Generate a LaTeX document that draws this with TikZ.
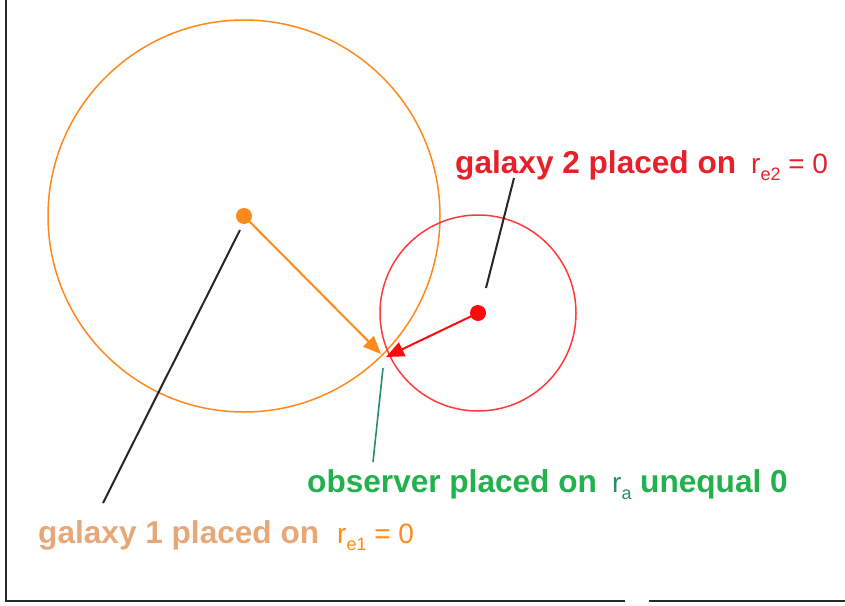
\documentclass[tikz,border=0pt]{standalone}
\usepackage{fontspec}
\setmainfont{Liberation Sans}
\usetikzlibrary{arrows.meta}
\definecolor{orng}{HTML}{FF8A1C}
\definecolor{redc}{HTML}{FF3A3A}
\definecolor{redd}{HTML}{FF0A0A}
\definecolor{redt}{HTML}{E8202A}
\definecolor{grnt}{HTML}{22B14C}
\definecolor{teal2}{HTML}{2A8A6E}
\definecolor{tant}{HTML}{E6A879}
\definecolor{frame}{HTML}{2A2A2A}
\tikzset{
  dot/.style={circle,fill=#1,inner sep=0pt,minimum size=16pt},
  ring/.style={draw=#1,line width=1.5pt},
  vec/.style={draw=#1,line width=2pt,-{Triangle[length=18pt,width=15pt]}},
  lead/.style={draw=#1,line width=2pt},
  big/.style={anchor=base west,inner sep=0pt,font=\bfseries\fontsize{31.6}{36}\selectfont},
  rpart/.style={anchor=base west,inner sep=0pt,font=\fontsize{28}{32}\selectfont},
}
\newcommand{\subx}[1]{\raisebox{-7pt}{\fontsize{18}{20}\selectfont #1}}
\begin{document}
\begin{tikzpicture}[x=1pt,y=-1pt]
\useasboundingbox (0,0) rectangle (845,605);
% frame
\draw[frame,line width=2.4pt] (6,0) -- (6,601) -- (625,601);
\draw[frame,line width=2.4pt] (649,601) -- (845,601);
% circles
\coordinate (c1) at (244,216);
\coordinate (c2) at (478,313);
\draw[ring=orng] (c1) circle[radius=196pt];
\draw[ring=redc] (c2) circle[radius=98pt];
% observer point tips
\coordinate (t1) at (381,354);
\coordinate (t2) at (386,357);
\draw[vec=orng] (c1) -- (t1);
\draw[vec=redd] (c2) -- (t2);
\node[dot=orng] (g1) at (c1) {};
\node[dot=redd] (g2) at (c2) {};
% leader lines
\coordinate (l1a) at (240,230);
\coordinate (l1b) at (103,503);
\coordinate (l2a) at (514,178);
\coordinate (l2b) at (486,288);
\coordinate (l3a) at (383,368);
\coordinate (l3b) at (373,462);
\draw[lead=black!85] (l1a) -- (l1b);
\draw[lead=black!85] (l2a) -- (l2b);
\draw[lead=teal2,line width=1.6pt] (l3a) -- (l3b);
% labels
\node[big,text=redt] (lab2) at (455,173) {galaxy 2 placed on};
\node[rpart,text=redt] (r2) at (751,173) {r\subx{e2} = 0};
\node[big,text=grnt] (lab3) at (307,492) {observer placed on};
\node[rpart,text=teal2] (r3) at (612,492) {r\subx{a}};
\node[big,text=grnt] (lab3b) at (640,492) {unequal 0};
\node[big,text=tant] (lab1) at (38,543) {galaxy 1 placed on};
\node[rpart,text=orng] (r1) at (337,543) {r\subx{e1} = 0};
\end{tikzpicture}
\end{document}
